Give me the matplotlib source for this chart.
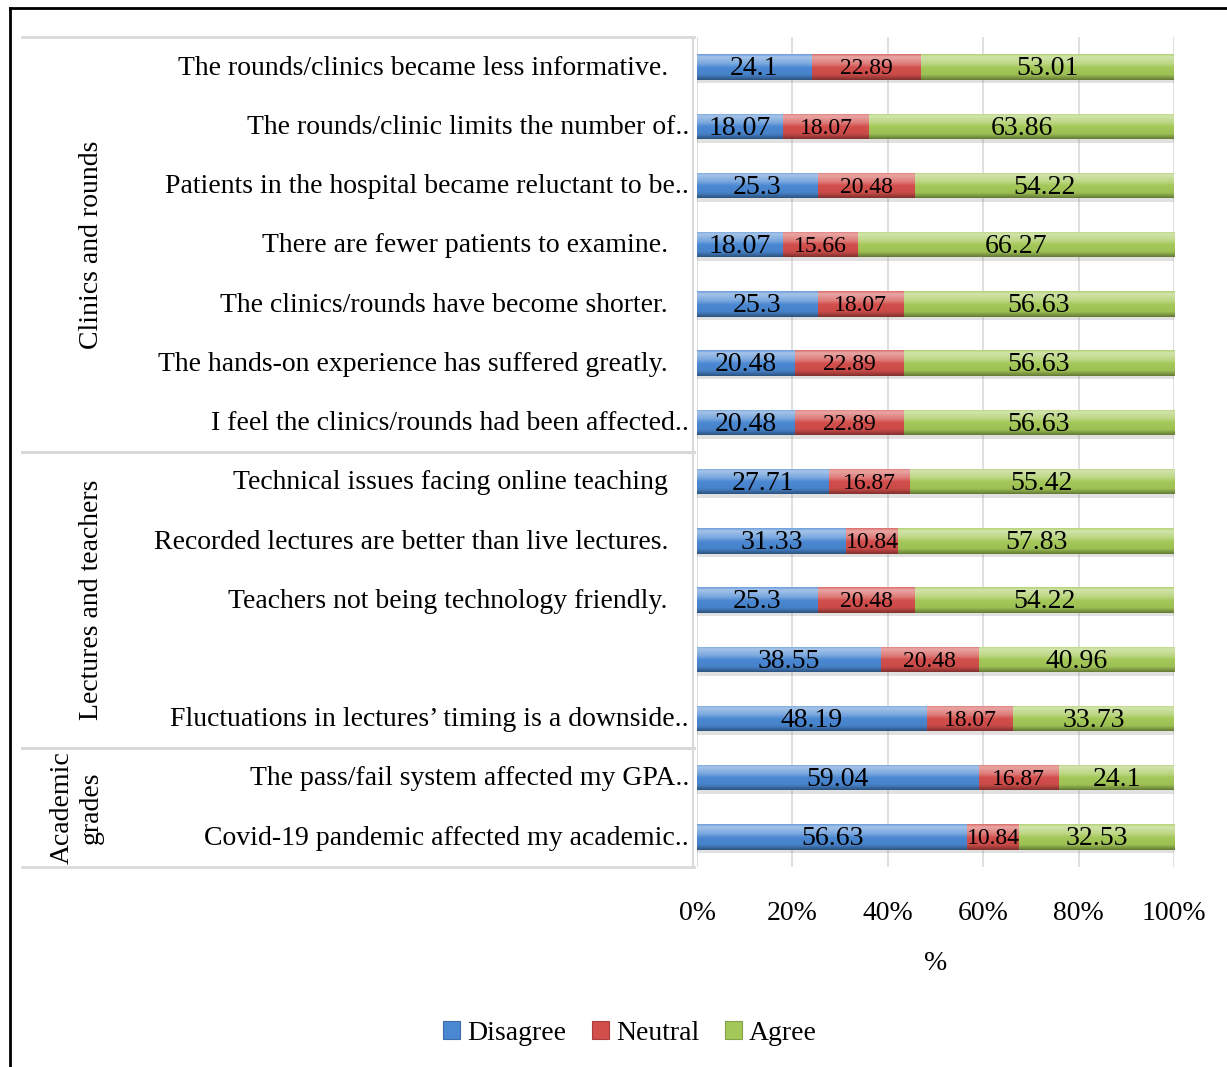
import numpy as np
import matplotlib
matplotlib.use("Agg")
import matplotlib.pyplot as plt
from matplotlib.transforms import blended_transform_factory
from matplotlib.lines import Line2D
from matplotlib.patches import Patch
from matplotlib.colors import to_rgb

plt.rcParams["font.family"] = ["Liberation Serif", "DejaVu Serif"]

# Survey items, top to bottom
items = [
    "The rounds/clinics became less informative.",
    "The rounds/clinic limits the number of..",
    "Patients in the hospital became reluctant to be..",
    "There are fewer patients to examine.",
    "The clinics/rounds have become shorter.",
    "The hands-on experience has suffered greatly.",
    "I feel the clinics/rounds had been affected..",
    "Technical issues facing online teaching",
    "Recorded lectures are better than live lectures.",
    "Teachers not being technology friendly.",
    "",
    "Fluctuations in lectures\u2019 timing is a downside..",
    "The pass/fail system affected my GPA..",
    "Covid-19 pandemic affected my academic..",
]
disagree = [24.1, 18.07, 25.3, 18.07, 25.3, 20.48, 20.48, 27.71, 31.33, 25.3, 38.55, 48.19, 59.04, 56.63]
neutral = [22.89, 18.07, 20.48, 15.66, 18.07, 22.89, 22.89, 16.87, 10.84, 20.48, 20.48, 18.07, 16.87, 10.84]
agree = [53.01, 63.86, 54.22, 66.27, 56.63, 56.63, 56.63, 55.42, 57.83, 54.22, 40.96, 33.73, 24.1, 32.53]

series_names = ["Disagree", "Neutral", "Agree"]
series_colors = ["#4A88D2", "#D24E4B", "#A4C858"]

# Groups: (title, first item index, last item index)
groups = [("Clinics and rounds", 0, 6),
          ("Lectures and teachers", 7, 11),
          ("Academic\ngrades", 12, 13)]

x_ticks = [0, 20, 40, 60, 80, 100]
x_ticklabels = ["0%", "20%", "40%", "60%", "80%", "100%"]

W, H = 1227, 1067
fig = plt.figure(figsize=(W / 100, H / 100), dpi=100)
ax_top, ax_bot = 37.4, 866.6
ax = fig.add_axes([697 / W, 1 - ax_bot / H, (1174 - 697) / W, (ax_bot - ax_top) / H])

n = len(items)
y = np.arange(n)
ax.set_xlim(0, 100)
ax.set_ylim(n - 0.5, -0.5)

bar_h = 0.43


def shade(c, f):
    c = np.array(to_rgb(c))
    if f >= 0:
        return c + (1 - c) * f
    return c * (1 + f)


def bevel(patch, color):
    x0, y0 = patch.get_x(), patch.get_y()
    w, h = patch.get_width(), patch.get_height()
    stops = [(0.0, shade(color, 0.2)), (0.1, shade(color, 0.5)),
             (0.38, shade(color, 0.25)), (0.52, shade(color, 0.0)),
             (0.8, shade(color, -0.04)), (1.0, shade(color, -0.38))]
    t = np.linspace(0, 1, 40)
    img = np.zeros((40, 1, 3))
    for k in range(3):
        img[:, 0, k] = np.interp(t, [s[0] for s in stops], [s[1][k] for s in stops])
    im = ax.imshow(img, extent=(x0, x0 + w, y0 + h, y0), aspect="auto",
                   interpolation="bilinear", zorder=3)
    im.set_clip_path(patch)


# soft drop shadow under each bar
left = np.zeros(n)
for vals in (disagree, neutral, agree):
    ax.barh(y + 0.06, vals, left=left, height=bar_h, color="#888888",
            alpha=0.25, linewidth=0, zorder=2)
    left = left + np.array(vals)

left = np.zeros(n)
for vals, name, col in zip((disagree, neutral, agree), series_names, series_colors):
    bars = ax.barh(y, vals, left=left, height=bar_h, color=col, linewidth=0,
                   zorder=2.5, label=name)
    for p in bars.patches:
        bevel(p, col)
    fs = 17 if name == "Neutral" else 20
    for yi, l, v in zip(y, left, vals):
        ax.text(l + v / 2, yi + 0.03, f"{v:g}", ha="center", va="center",
                fontsize=fs, color="black", zorder=5)
    left = left + np.array(vals)

# grid and axes styling
ax.set_xticks(x_ticks)
ax.set_xticklabels(x_ticklabels, fontsize=20)
ax.tick_params(axis="x", length=0, pad=25)
ax.set_yticks([])
ax.grid(axis="x", color="#D9D9D9", linewidth=1.2, zorder=0)
ax.set_axisbelow(True)
for s in ("top", "right", "bottom"):
    ax.spines[s].set_visible(False)
ax.spines["left"].set_color("#D9D9D9")
ax.spines["left"].set_linewidth(1.5)
ax.spines["left"].set_position(("outward", 3))
ax.set_xlabel("%", fontsize=20, labelpad=18)

# item labels
tr = blended_transform_factory(fig.transFigure, ax.transData)
for yi, lab in zip(y, items):
    xr = 689 if lab.endswith("..") else 668
    ax.text(xr / W, yi + 0.02, lab, transform=tr, ha="right", va="center",
            fontsize=20, color="black")

# group separators and titles
for title, i0, i1 in groups:
    for yy in (i0 - 0.5, i1 + 0.5):
        ax.add_line(Line2D([22 / W, 694 / W], [yy, yy], transform=tr,
                           color="#D9D9D9", linewidth=2, clip_on=False))
    ax.text(104 / W, (i0 + i1) / 2, title, transform=tr, rotation=90,
            ha="right", va="center", fontsize=20, linespacing=1.2,
            multialignment="center")

# legend
handles = [Patch(facecolor=c, edgecolor=shade(c, -0.2), linewidth=0.8) for c in series_colors]
fig.legend(handles, series_names, loc="center", bbox_to_anchor=(630 / W, 1 - 1033 / H),
           ncol=3, frameon=False, fontsize=20, handlelength=0.6, handleheight=0.6,
           handletextpad=0.25, columnspacing=0.95)

# outer frame (left and top edges)
fig.add_artist(Line2D([10 / W, 10 / W], [0, 1 - 8 / H], color="black", linewidth=2,
                      transform=fig.transFigure))
fig.add_artist(Line2D([10 / W, 1], [1 - 8 / H, 1 - 8 / H], color="black", linewidth=2,
                      transform=fig.transFigure))

fig.savefig("out.png", dpi=100, facecolor="white")
